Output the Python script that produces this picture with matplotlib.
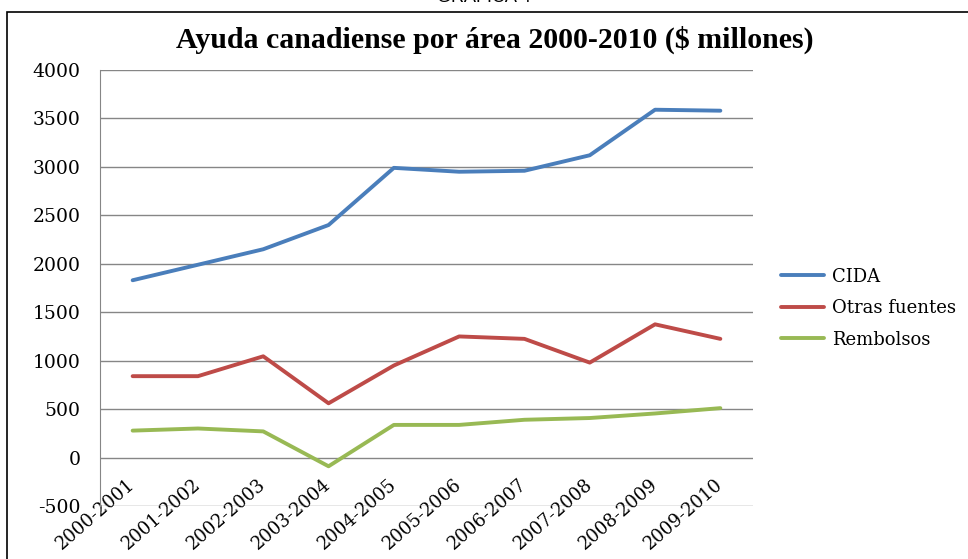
import numpy as np
import matplotlib
matplotlib.use('Agg')
import matplotlib.pyplot as plt
from matplotlib.patches import Rectangle

# %%
periodos = ['2000-2001', '2001-2002', '2002-2003', '2003-2004', '2004-2005',
            '2005-2006', '2006-2007', '2007-2008', '2008-2009', '2009-2010']
cida = [1830, 1990, 2150, 2400, 2990, 2950, 2960, 3120, 3590, 3580]
otras = [840, 840, 1045, 560, 950, 1250, 1225, 980, 1375, 1225]
rembolsos = [278, 300, 270, -90, 337, 337, 390, 408, 455, 510]
yticks = [-500, 0, 500, 1000, 1500, 2000, 2500, 3000, 3500, 4000]

# %%
fig = plt.figure(figsize=(9.68, 5.59), dpi=100)
fig.patch.set_facecolor('white')

# outer frame of the chart
fig.patches.append(Rectangle((7/968, -0.1), 1.2, 1 - 12/559 + 0.1, transform=fig.transFigure,
                             fill=False, edgecolor='black', linewidth=1.2))
fig.text(484/968, 1 + 2/559, 'GRÁFICA 4', ha='center', va='center',
         fontsize=13, family='Liberation Sans')
fig.text(495/968, 1 - 40/559, 'Ayuda canadiense por área 2000-2010 ($ millones)',
         ha='center', va='center', fontsize=21.5, fontweight='bold', family='Liberation Serif')

ax = fig.add_axes([100/968, 1 - 506/559, 653/968, (506 - 70)/559])
x = np.arange(len(periodos))
ax.plot(x, cida, color='#4A7EBB', lw=2.8, label='CIDA', solid_capstyle='round')
ax.plot(x, otras, color='#BE4B48', lw=2.8, label='Otras fuentes', solid_capstyle='round')
ax.plot(x, rembolsos, color='#98B954', lw=2.8, label='Rembolsos', solid_capstyle='round')

ax.set_xlim(-0.5, len(periodos) - 0.5)
ax.set_ylim(-500, 4000)
ax.set_yticks(yticks)
ax.set_yticklabels([str(v) for v in yticks], family='DejaVu Serif', fontsize=13.5)
ax.set_xticks(x)
ax.set_xticklabels(periodos, rotation=41, ha='right', va='center', rotation_mode='anchor',
                   family='DejaVu Serif', fontsize=13)
ax.yaxis.grid(True, color='#868686', lw=1)
ax.set_axisbelow(True)
for s in ['top', 'right', 'bottom']:
    ax.spines[s].set_visible(False)
ax.spines['left'].set_color('#868686')
ax.tick_params(axis='y', length=0, pad=14)
ax.tick_params(axis='x', length=0, pad=-17)

leg = ax.legend(loc='center left', bbox_to_anchor=(1.018, 0.454), frameon=False,
                prop={'family': 'DejaVu Serif', 'size': 13}, handlelength=2.4,
                handletextpad=0.4, labelspacing=0.75)

fig.savefig('out.png', dpi=100)
